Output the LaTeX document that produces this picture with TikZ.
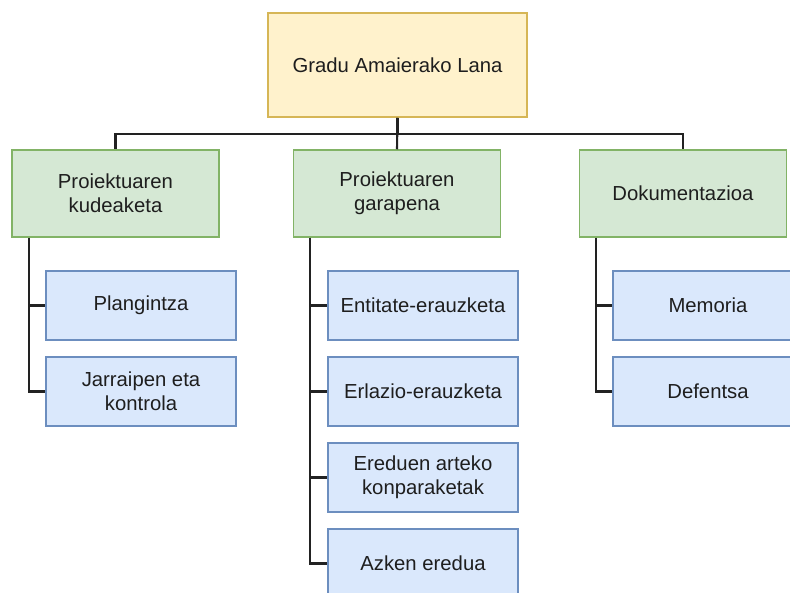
\documentclass[tikz,border=0pt]{standalone}
\usepackage{fontspec}
\setmainfont{Liberation Sans}
\usetikzlibrary{calc}
\definecolor{rootfill}{HTML}{FFF2CC}
\definecolor{rootline}{HTML}{D6B656}
\definecolor{midfill}{HTML}{D5E8D4}
\definecolor{midline}{HTML}{82B366}
\definecolor{leaffill}{HTML}{DAE8FC}
\definecolor{leafline}{HTML}{6C8EBF}
\definecolor{ink}{HTML}{1E1E1E}
\definecolor{wire}{HTML}{222222}
\tikzset{
  box/.style={draw, line width=1.5pt, inner sep=0pt, align=center, text=ink,
    font=\fontsize{20.3}{24}\selectfont},
  rootbox/.style={box, fill=rootfill, draw=rootline, minimum width=259pt, minimum height=104pt},
  midbox/.style={box, fill=midfill, draw=midline, minimum width=207pt, minimum height=87pt},
  leafbox/.style={box, fill=leaffill, draw=leafline, minimum width=190pt, minimum height=69pt},
  wirestyle/.style={draw=wire, line width=2.1pt}
}
\begin{document}
\begin{tikzpicture}[x=1pt,y=-1pt]
\useasboundingbox (0,0) rectangle (790,592);
\fill[white] (0,0) rectangle (790,592);

% root
\node[rootbox] (root) at (397.5,65) {Gradu Amaierako Lana};

% second level
\node[midbox] (kud) at (115.5,193.5) {Proiektuaren\\kudeaketa};
\node[midbox] (gar) at (397,193.5) {Proiektuaren\\garapena};
\node[midbox] (dok) at (683,193.5) {Dokumentazioa};

% leaves
\node[leafbox] (plan) at (141,305.5) {Plangintza};
\node[leafbox] (jarr) at (141,391.5) {Jarraipen eta\\kontrola};
\node[leafbox] (ent) at (423,305.5) {Entitate-erauzketa};
\node[leafbox] (erl) at (423,391.5) {Erlazio-erauzketa};
\node[leafbox] (ered) at (423,477.5) {Ereduen arteko\\konparaketak};
\node[leafbox] (azk) at (423,563.5) {Azken eredua};
\node[leafbox] (mem) at (708,305.5) {Memoria};
\node[leafbox] (def) at (708,391.5) {Defentsa};

% root to second level
\draw[wirestyle] (root.south) -- ++(0,16) -| (kud.north);
\draw[wirestyle] (root.south) -- (gar.north);
\draw[wirestyle] (root.south) -- ++(0,16) -| (dok.north);

% second level to leaves
\foreach \parent/\child in {kud/plan, kud/jarr, gar/ent, gar/erl, gar/ered, gar/azk, dok/mem, dok/def}
  \draw[wirestyle] ($(\parent.south west)+(17.5,0)$) |- (\child.west);
\end{tikzpicture}
\end{document}
